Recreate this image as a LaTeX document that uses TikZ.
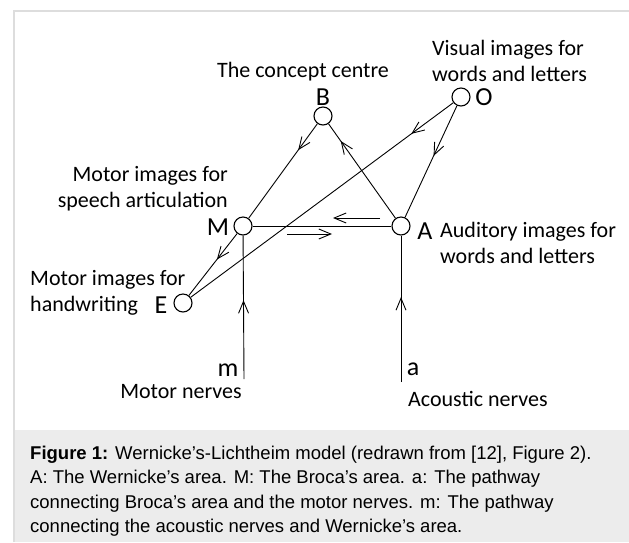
\documentclass[tikz,border=0pt]{standalone}
\usepackage{fontspec}
\setmainfont{Carlito}
\newfontfamily\capfont{Liberation Sans}
\usetikzlibrary{arrows.meta,decorations.markings}
\definecolor{framegray}{HTML}{DDDDDD}
\definecolor{capgray}{HTML}{ECECEC}
\tikzset{
  area/.style={circle,draw,line width=1.1pt,minimum size=18pt,inner sep=0pt},
  lbl/.style={font=\fontsize{22}{26}\selectfont,inner sep=0pt},
  letter/.style={font=\fontsize{26}{30}\selectfont,inner sep=0pt},
  conn/.style={line width=0.9pt},
  midarrow/.style={postaction={decorate,decoration={markings,
     mark=at position #1 with {\arrow{Straight Barb[length=12pt,width=10pt,line width=0.9pt]}}}}},
  sidearrow/.style={line width=0.9pt,-{Straight Barb[length=12pt,width=10pt]}}
}
\begin{document}
\begin{tikzpicture}[x=1pt,y=-1pt]
\useasboundingbox (0,0) rectangle (629,542);
% frame and caption box
\fill[capgray] (14,430) rectangle (629,542);
\draw[framegray,line width=1.2pt] (14,542) -- (14,11) -- (629,11);
% circles
\node[area] (B) at (323,116) {};
\node[area] (O) at (461,97) {};
\node[area] (M) at (243,226) {};
\node[area] (A) at (401,226) {};
\node[area] (E) at (183,303) {};
\coordinate (m) at (244,379);
\coordinate (a) at (401,382);
% connectors
\draw[conn,midarrow=0.28] (B) -- (M);
\draw[conn,midarrow=0.82] (A) -- (B);
\draw[conn,midarrow=0.45] (O) -- (A);
\draw[conn,midarrow=0.16] (O) -- (E);
\draw[conn,midarrow=0.42] (M) -- (E);
\draw[conn] (M) -- (A);
\draw[conn,midarrow=0.55] (m) -- (M);
\draw[conn,midarrow=0.58] (a) -- (A);
% side arrows on M-A
\coordinate (u1) at (380,218);
\coordinate (u2) at (333,218);
\coordinate (d1) at (287,234);
\coordinate (d2) at (332,234);
\draw[sidearrow] (u1) -- (u2);
\draw[sidearrow] (d1) -- (d2);
% labels
\node[lbl] (tB) at (303,72) {The concept centre};
\node[letter] (lB) at (323,97) {B};
\node[letter] (lO) at (484,97) {O};
\node[lbl,anchor=west,align=left] (tO) at (432,61) {Visual images for\\words and letters};
\node[lbl,anchor=east,align=right] (tM) at (228,189) {Motor images for\\speech articulation};
\node[letter] (lM) at (218,227) {M};
\node[letter] (lA) at (425,231) {A};
\node[lbl,anchor=west,align=left] (tA) at (440,243) {Auditory images for\\words and letters};
\node[lbl,anchor=west,align=left] (tE) at (30,293) {Motor images for\\handwriting};
\node[letter] (lE) at (161,305) {E};
\node[letter] (lm) at (228,370) {m};
\node[lbl] (tm) at (181,392) {Motor nerves};
\node[letter] (la) at (413,369) {a};
\node[lbl,anchor=west] (ta) at (408,399) {Acoustic nerves};
% caption
\node[anchor=north west,align=left,inner sep=0pt,font=\capfont\fontsize{18.5}{24.2}\selectfont] (cap) at (30,446)
{\textbf{Figure 1:} Wernicke’s-Lichtheim model (redrawn from [12], Figure 2).\\
A: The Wernicke’s area. M: The Broca’s area. a: The pathway\\
connecting Broca’s area and the motor nerves. m: The pathway\\
connecting the acoustic nerves and Wernicke’s area.};
\end{tikzpicture}
\end{document}
